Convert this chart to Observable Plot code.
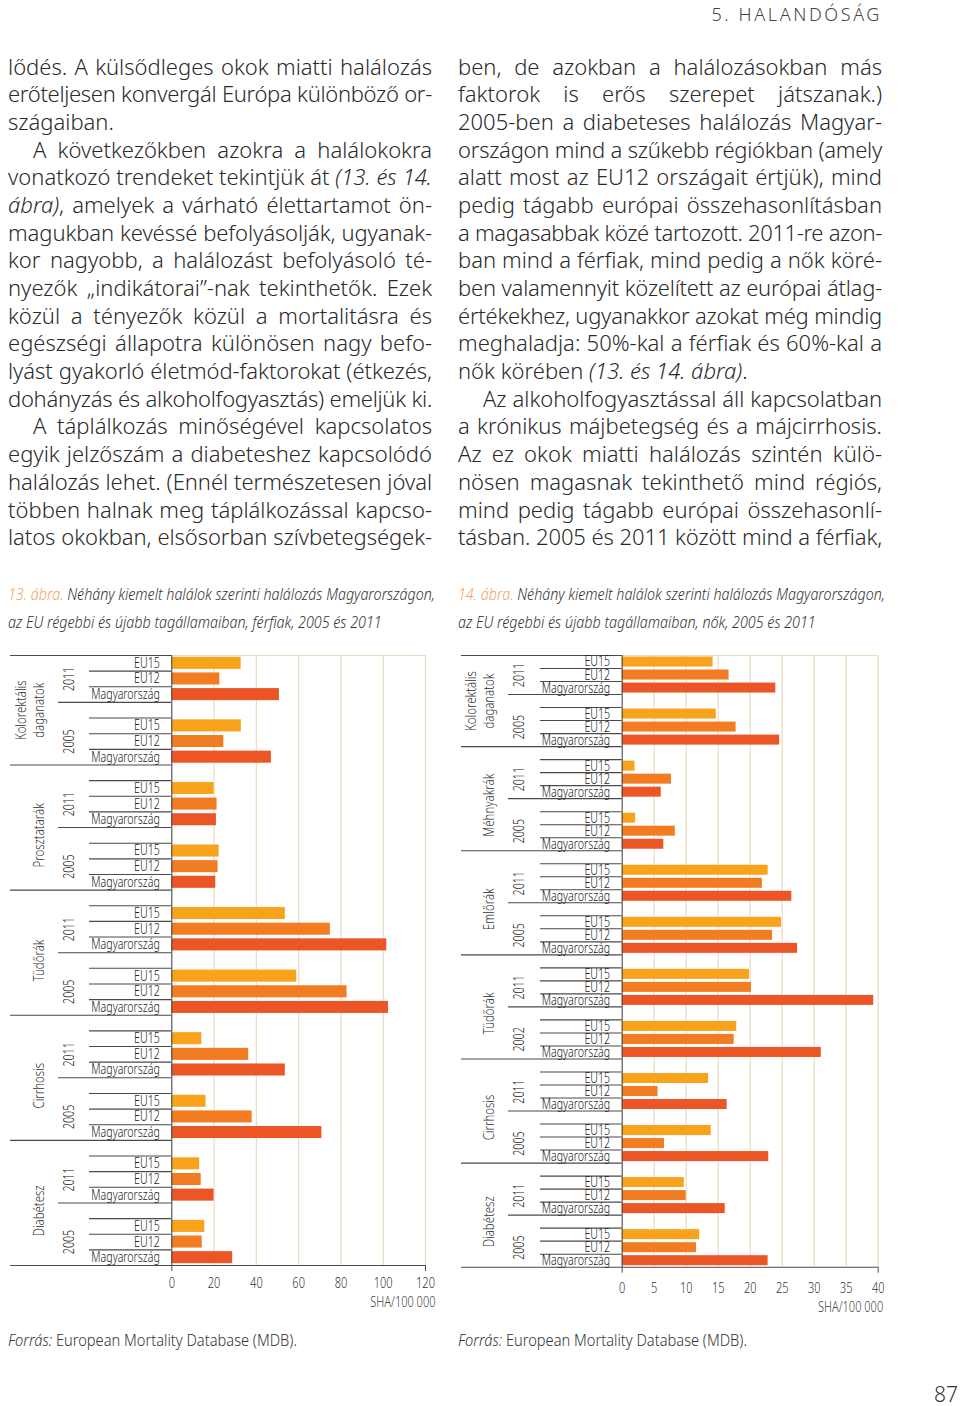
<!DOCTYPE html>
<html><head><meta charset="utf-8">
<script src="https://cdn.jsdelivr.net/npm/d3@7"></script>
<script src="https://cdn.jsdelivr.net/npm/@observablehq/plot@0.6"></script>
<style>
html,body{margin:0;padding:0;background:#fff}
body{width:960px;height:1406px;position:relative;overflow:hidden;font-family:"Noto Sans",sans-serif;color:#333}
.abs{position:absolute}
.col{position:absolute;top:52.5px;width:424px;font-family:"Noto Sans","Open Sans",sans-serif;font-weight:300;font-size:22px;color:#2a2a2a}
.ln{display:block;height:27.7px;line-height:27.7px;white-space:nowrap;text-align:left}
.ln.jj{text-align:justify;text-align-last:justify}
.ln.ind{padding-left:25px}
.cap{position:absolute;top:580px;font-family:"Noto Sans",sans-serif;font-weight:300;font-style:italic;font-size:16.5px;line-height:28px;color:#333;white-space:nowrap;transform-origin:0 0}
.cap .n{color:#F2A35E}
.src{position:absolute;top:1330px;font-family:"Noto Sans",sans-serif;font-weight:300;font-size:16.5px;line-height:20px;color:#333;white-space:nowrap;transform-origin:0 0}
.chart{position:absolute;top:645px}
.chart svg{overflow:visible}
</style></head>
<body>
<div class="abs" id="hdr" style="right:78px;top:2px;font-family:'Noto Sans','Open Sans',sans-serif;font-weight:300;font-size:18px;letter-spacing:2.6px;color:#444;white-space:nowrap">5. HALANDÓSÁG</div>
<div class="col" id="colL" style="left:8px"></div>
<div class="col" id="colR" style="left:458px"></div>
<div class="cap" id="capL" style="left:8px"><span id="capL1"><span class="n">13. ábra.</span> Néhány kiemelt halálok szerinti halálozás Magyarországon,</span><br>az EU régebbi és újabb tagállamaiban, férfiak, 2005 és 2011</div>
<div class="cap" id="capR" style="left:458px"><span id="capR1"><span class="n">14. ábra.</span> Néhány kiemelt halálok szerinti halálozás Magyarországon,</span><br>az EU régebbi és újabb tagállamaiban, nők, 2005 és 2011</div>
<div class="chart" id="chartL" style="left:0px"></div>
<div class="chart" id="chartR" style="left:450px"></div>
<div class="src" id="srcL" style="left:8px"><span id="srcL1"><i>Forrás:</i> European Mortality Database (MDB).</span></div>
<div class="src" id="srcR" style="left:458px"><span id="srcR1"><i>Forrás:</i> European Mortality Database (MDB).</span></div>
<div class="abs" style="right:2px;top:1380px;font-family:'Noto Sans','Open Sans',sans-serif;font-weight:300;font-size:21px;color:#333">87</div>
<script>
// ---------- data ----------
const series = ["EU15", "EU12", "Magyarország"];

// 13. ábra – férfiak (order: cause × [first year, second year])
const menCauses = ["Kolorektális\ndaganatok", "Prosztatarák", "Tüdőrák", "Cirrhosis", "Diabétesz"];
const menYears  = ["2011", "2005", "2011", "2005", "2011", "2005", "2011", "2005", "2011", "2005"];
const menEU15   = [32.8, 32.9, 20.0, 22.4, 53.7, 59.1, 14.2, 16.2, 13.2, 15.6];
const menEU12   = [22.7, 24.6, 21.4, 21.9, 75.0, 82.9, 36.4, 38.0, 13.9, 14.4];
const menHU     = [50.9, 47.1, 21.1, 20.8, 101.7, 102.5, 53.7, 71.0, 20.0, 28.8];
const menTicks  = [0, 20, 40, 60, 80, 100, 120];

// 14. ábra – nők
const womenCauses = ["Kolorektális\ndaganatok", "Méhnyakrák", "Emlőrák", "Tüdőrák", "Cirrhosis", "Diabétesz"];
const womenYears  = ["2011", "2005", "2011", "2005", "2011", "2005", "2011", "2002", "2011", "2005", "2011", "2005"];
const womenEU15   = [14.2, 14.7, 2.0, 2.1, 22.8, 24.9, 19.9, 17.9, 13.5, 13.9, 9.7, 12.1];
const womenEU12   = [16.7, 17.8, 7.7, 8.3, 21.9, 23.5, 20.2, 17.5, 5.6, 6.6, 10.0, 11.6];
const womenHU     = [24.0, 24.6, 6.1, 6.5, 26.5, 27.4, 39.3, 31.1, 16.4, 22.9, 16.1, 22.8];
const womenTicks  = [0, 5, 10, 15, 20, 25, 30, 35, 40];

const unitLabel = "SHA/100 000";

// ---------- body text ----------
const leftLines = [
 ["lődés. A külsődleges okok miatti halálozás","j"],
 ["erőteljesen konvergál Európa különböző or-","j"],
 ["szágaiban.","e"],
 ["A következőkben azokra a halálokokra","ij"],
 ["vonatkozó trendeket tekintjük át <i>(13. és 14.</i>","j"],
 ["<i>ábra)</i>, amelyek a várható élettartamot ön-","j"],
 ["magukban kevéssé befolyásolják, ugyanak-","j"],
 ["kor nagyobb, a halálozást befolyásoló té-","j"],
 ["nyezők „indikátorai”-nak tekinthetők. Ezek","j"],
 ["közül a tényezők közül a mortalitásra és","j"],
 ["egészségi állapotra különösen nagy befo-","j"],
 ["lyást gyakorló életmód-faktorokat (étkezés,","j"],
 ["dohányzás és alkoholfogyasztás) emeljük ki.","j"],
 ["A táplálkozás minőségével kapcsolatos","ij"],
 ["egyik jelzőszám a diabeteshez kapcsolódó","j"],
 ["halálozás lehet. (Ennél természetesen jóval","j"],
 ["többen halnak meg táplálkozással kapcso-","j"],
 ["latos okokban, elsősorban szívbetegségek-","j"]
];
const rightLines = [
 ["ben, de azokban a halálozásokban más","j"],
 ["faktorok is erős szerepet játszanak.)","j"],
 ["2005-ben a diabeteses halálozás Magyar-","j"],
 ["országon mind a szűkebb régiókban (amely","j"],
 ["alatt most az EU12 országait értjük), mind","j"],
 ["pedig tágabb európai összehasonlításban","j"],
 ["a magasabbak közé tartozott. 2011-re azon-","j"],
 ["ban mind a férfiak, mind pedig a nők köré-","j"],
 ["ben valamennyit közelített az európai átlag-","j"],
 ["értékekhez, ugyanakkor azokat még mindig","j"],
 ["meghaladja: 50%-kal a férfiak és 60%-kal a","j"],
 ["nők körében <i>(13. és 14. ábra)</i>.","e"],
 ["Az alkoholfogyasztással áll kapcsolatban","ij"],
 ["a krónikus májbetegség és a májcirrhosis.","j"],
 ["Az ez okok miatti halálozás szintén külö-","j"],
 ["nösen magasnak tekinthető mind régiós,","j"],
 ["mind pedig tágabb európai összehasonlí-","j"],
 ["tásban. 2005 és 2011 között mind a férfiak,","j"]
];

function fillColumn(id, lines) {
  const col = document.getElementById(id);
  lines.forEach(([html, type]) => {
    const d = document.createElement("div");
    d.className = "ln" + (type === "ij" ? " ind" : "");
    const s = document.createElement("span");
    s.innerHTML = html;
    d.appendChild(s);
    col.appendChild(d);
    const avail = 424 - (type === "ij" ? 25 : 0);
    const w = s.getBoundingClientRect().width;
    if (w > avail - 1) {
      const n = s.textContent.length;
      s.style.letterSpacing = ((avail - 1 - w) / n) + "px";
    }
    if (type !== "e") d.classList.add("jj");
  });
}
fillColumn("colL", leftLines);
fillColumn("colR", rightLines);

// narrow caption / source text horizontally to the reference line lengths
function squeeze(boxId, measureId, target) {
  const box = document.getElementById(boxId);
  const w = document.getElementById(measureId).getBoundingClientRect().width;
  if (w > 0) box.style.transform = "scaleX(" + (target / w) + ")";
}
squeeze("capL", "capL1", 427);
squeeze("capR", "capR1", 427);
squeeze("srcL", "srcL1", 289);
squeeze("srcR", "srcR1", 289);

// ---------- charts ----------
const barColors = ["#F8A31B", "#F27C21", "#EC5525"];

function layout(causes, years, eu15, eu12, hu) {
  const bars = [], rowLabels = [], yearLabels = [], causeLabels = [], lines = [];
  let r = 0;
  causes.forEach((cause, i) => {
    const cStart = r;
    for (let j = 0; j < 2; j++) {
      const k = 2 * i + j;
      const vals = [eu15[k], eu12[k], hu[k]];
      const r0 = r;
      lines.push({r: r0, level: (i === 0 && j === 0) ? "cause" : "row"});
      series.forEach((s, si) => {
        bars.push({series: s, value: vals[si], r});
        rowLabels.push({label: s, r: r + 0.5});
        r++;
        if (si < 2) lines.push({r, level: "row"});
      });
      lines.push({r, level: j === 0 ? "year" : "cause"});
      yearLabels.push({label: years[k], r: r0 + 1.5});
      if (j === 0) r++;
    }
    causeLabels.push({label: cause, r: (cStart + r) / 2});
    if (i < causes.length - 1) r++;
  });
  return {bars, rowLabels, yearLabels, causeLabels, lines, n: r};
}

function drawChart(o) {
  const L = layout(o.causes, o.years, o.eu15, o.eu12, o.hu);
  const xMax = o.ticks[o.ticks.length - 1];
  const xs = Plot.scale({x: {domain: [0, xMax], range: [o.marginLeft, o.width - o.marginRight]}});
  const px = p => xs.invert(p);
  const start = {cause: o.causeX, year: o.yearX, row: o.rowX};
  const dark = "#4a4a4a";
  return Plot.plot({
    width: o.width, height: o.height,
    marginTop: o.marginTop, marginBottom: o.marginBottom,
    marginLeft: o.marginLeft, marginRight: o.marginRight,
    style: {fontFamily: "'Noto Sans',sans-serif", fontSize: "13px", color: "#3a3a3a", background: "transparent", overflow: "visible"},
    x: {domain: [0, xMax], axis: null},
    y: {domain: [0, L.n], reverse: true, axis: null},
    color: {domain: series, range: barColors},
    marks: [
      Plot.ruleX(o.ticks.slice(1), {stroke: "#EBDCC4", strokeWidth: 1.2}),
      Plot.ruleY([0], {x1: 0, x2: xMax, stroke: "#EBDCC4", strokeWidth: 1.2}),
      Plot.rect(L.bars, {x1: 0, x2: "value", y1: "r", y2: d => d.r + 1, fill: "series", insetTop: o.inset, insetBottom: o.inset}),
      Plot.ruleY(L.lines, {y: "r", x1: d => px(start[d.level]), x2: 0, stroke: dark, strokeWidth: 1.1}),
      Plot.ruleY([L.n], {x1: 0, x2: xMax, stroke: dark, strokeWidth: 1.1}),
      Plot.ruleX([0], {stroke: dark, strokeWidth: 1.1}),
      Plot.axisX(o.ticks, {tickSize: 0, tickPadding: o.tickPadding, fontSize: 14.5, fontWeight: 300, fill: "#333", label: null}),
      Plot.axisX([0, xMax], {tickSize: 6, stroke: dark, tickFormat: () => "", label: null}),
      Plot.text(L.rowLabels, {x: 0, y: "r", text: "label", textAnchor: "end", dx: -12, fontSize: 14, fontWeight: 300, fill: "#222"}),
      Plot.text(L.yearLabels, {x: px(o.yearLabelX), y: "r", text: "label", rotate: -90, fontSize: 14, fontWeight: 300, fill: "#222"}),
      Plot.text(L.causeLabels, {x: px(o.causeLabelX), y: "r", text: "label", rotate: -90, lineAnchor: "bottom", lineHeight: 1.2, fontSize: 15, fontWeight: 300, fill: "#333"}),
      Plot.text([unitLabel], {frameAnchor: "bottom-right", text: d => d, textAnchor: "end", dx: o.unitDx, dy: o.unitDy, fontSize: 14.5, fontWeight: 300, fill: "#444"})
    ]
  });
}

// condense the SVG labels horizontally (the reference uses a narrow face)
function condense(svg, factor) {
  svg.querySelectorAll("text").forEach(t => {
    const spans = t.querySelectorAll("tspan");
    const targets = spans.length ? Array.from(spans) : [t];
    targets.forEach(el => {
      const len = el.getComputedTextLength();
      if (len > 0) {
        el.setAttribute("textLength", (len * factor).toFixed(2));
        el.setAttribute("lengthAdjust", "spacingAndGlyphs");
      }
    });
  });
}

const svgL = drawChart({
  causes: menCauses, years: menYears, eu15: menEU15, eu12: menEU12, hu: menHU, ticks: menTicks,
  width: 445, height: 670, marginTop: 10, marginBottom: 50, marginLeft: 171.3, marginRight: 20,
  inset: 1.8, tickPadding: 12, causeX: 10, yearX: 58, rowX: 89, yearLabelX: 69, causeLabelX: 43,
  unitDx: 10, unitDy: 41
});
document.getElementById("chartL").appendChild(svgL);
condense(svgL, 0.76);

const svgR = drawChart({
  causes: womenCauses, years: womenYears, eu15: womenEU15, eu12: womenEU12, hu: womenHU, ticks: womenTicks,
  width: 450, height: 670, marginTop: 10, marginBottom: 48.3, marginLeft: 171.7, marginRight: 22.3,
  inset: 1.5, tickPadding: 16, causeX: 11, yearX: 58, rowX: 90, yearLabelX: 69, causeLabelX: 43,
  unitDx: 5, unitDy: 45
});
document.getElementById("chartR").appendChild(svgR);
condense(svgR, 0.76);
</script>
</body></html>
